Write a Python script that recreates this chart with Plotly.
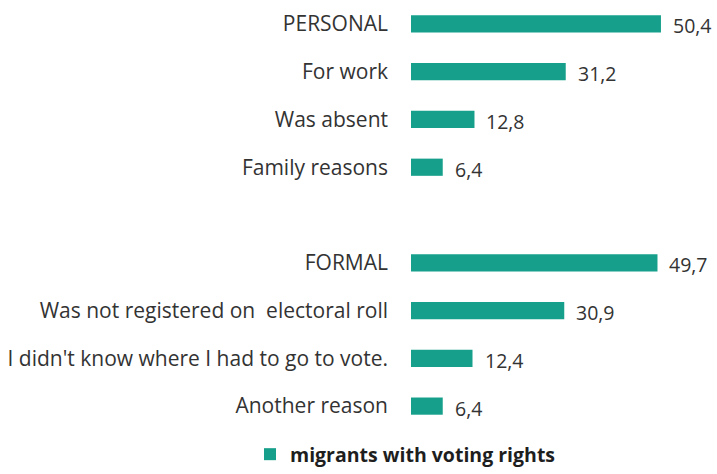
import plotly.graph_objects as go

# Reasons for not voting, grouped as personal and formal reasons
personal_labels = ["PERSONAL", "For work", "Was absent", "Family reasons"]
personal_values = [50.4, 31.2, 12.8, 6.4]
formal_labels = ["FORMAL", "Was not registered on  electoral roll",
                 "I didn't know where I had to go to vote.", "Another reason"]
formal_values = [49.7, 30.9, 12.4, 6.4]
series_name = "migrants with voting rights"

spacer = " "
categories = personal_labels + [spacer] + formal_labels
values = personal_values + [None] + formal_values

bar_color = "#16a08b"
text_color = "#333333"
label_font = "'Open Sans', 'Noto Sans', sans-serif"

fig = go.Figure()
fig.add_trace(go.Bar(
    y=categories,
    x=values,
    orientation="h",
    name=series_name,
    marker=dict(color=bar_color, line=dict(width=0)),
    width=0.36,
    showlegend=True,
))

# Value labels placed just right of each bar, comma as decimal mark
for cat, val in zip(categories, values):
    if val is None:
        continue
    fig.add_annotation(
        x=val, y=cat, xref="x", yref="y",
        text=f"{val:.1f}".replace(".", ","),
        showarrow=False, xanchor="left", yanchor="middle",
        xshift=10, yshift=-2,
        font=dict(family=label_font, size=19.5, color=text_color),
    )

fig.update_layout(
    width=717, height=474,
    margin=dict(l=411, r=0, t=0, b=44),
    paper_bgcolor="white", plot_bgcolor="white",
    bargap=0.6,
    xaxis=dict(range=[0, 61.7], visible=False),
    yaxis=dict(
        type="category",
        categoryorder="array",
        categoryarray=categories,
        autorange="reversed",
        showgrid=False, zeroline=False, showline=False,
        ticks="", ticklabelstandoff=22,
        tickfont=dict(family=label_font, size=21, color=text_color),
    ),
    legend=dict(
        orientation="h",
        xref="container", yref="container",
        x=250 / 717, y=0,
        xanchor="left", yanchor="bottom",
        borderwidth=0,
        font=dict(family=label_font, size=19.5, color="#1e1e1e", weight="bold"),
        itemwidth=30,
    ),
)

fig.write_html("out.html")
